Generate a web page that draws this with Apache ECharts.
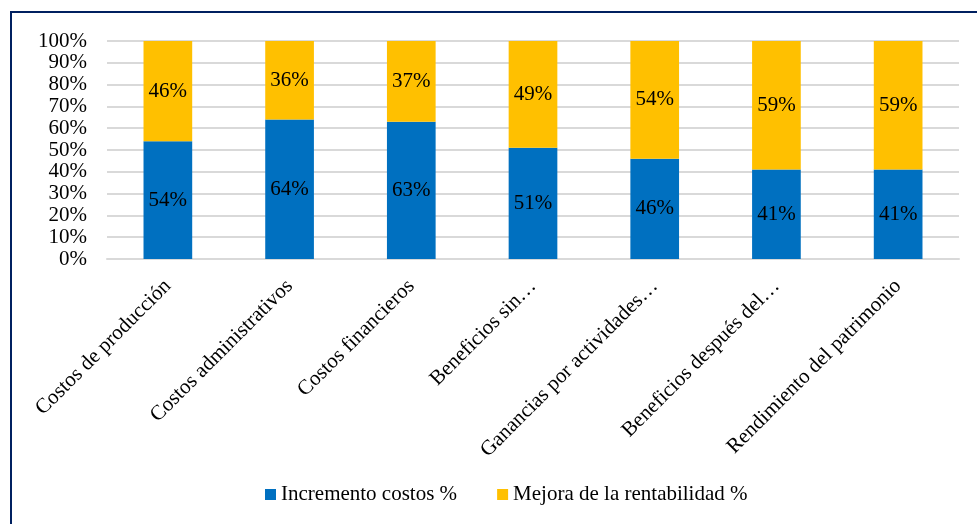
<!DOCTYPE html>
<html>
<head>
<meta charset="utf-8">
<script src="https://cdn.jsdelivr.net/npm/echarts@6/dist/echarts.min.js"></script>
<style>
  html, body { margin: 0; padding: 0; background: #fff; }
  #main { width: 977px; height: 524px; }
</style>
</head>
<body>
<div id="main"></div>
<script>
const categories = [
  'Costos de producción',
  'Costos administrativos',
  'Costos financieros',
  'Beneficios sin…',
  'Ganancias por actividades…',
  'Beneficios después del…',
  'Rendimiento del patrimonio'
];
const incrementoCostos = [54, 64, 63, 51, 46, 41, 41];
const mejoraRentabilidad = [46, 36, 37, 49, 54, 59, 59];

const font = 'Liberation Serif, Times New Roman, serif';
const myChart = echarts.init(document.getElementById('main'));

const barLabel = {
  show: true,
  position: 'inside',
  color: '#000',
  fontFamily: font,
  fontSize: 21,
  formatter: '{c}%'
};

const option = {
  backgroundColor: '#fff',
  textStyle: { fontFamily: font },
  graphic: [{
    type: 'rect',
    shape: { x: 11, y: 12, width: 1100, height: 700 },
    style: { fill: 'none', stroke: '#002060', lineWidth: 2 },
    silent: true
  }],
  legend: {
    bottom: 14,
    left: 260,
    icon: 'rect',
    itemWidth: 11,
    itemHeight: 11,
    itemGap: 40,
    textStyle: { fontFamily: font, fontSize: 21, color: '#000' },
    data: ['Incremento costos %', 'Mejora de la rentabilidad %']
  },
  grid: { left: 107, right: 18, top: 41, bottom: 265 },
  xAxis: {
    type: 'category',
    data: categories,
    axisTick: { show: false },
    axisLine: { lineStyle: { color: '#d9d9d9', width: 2 } },
    axisLabel: {
      rotate: 45,
      interval: 0,
      margin: 24,
      color: '#000',
      fontFamily: font,
      fontSize: 21
    }
  },
  yAxis: {
    type: 'value',
    min: 0,
    max: 100,
    interval: 10,
    axisLine: { show: false },
    axisTick: { show: false },
    splitLine: { lineStyle: { color: '#d9d9d9', width: 2 } },
    axisLabel: {
      formatter: '{value}%',
      margin: 20,
      color: '#000',
      fontFamily: font,
      fontSize: 21
    }
  },
  series: [
    {
      name: 'Incremento costos %',
      type: 'bar',
      stack: 'total',
      barWidth: '40%',
      data: incrementoCostos,
      itemStyle: { color: '#0070C0' },
      label: barLabel
    },
    {
      name: 'Mejora de la rentabilidad %',
      type: 'bar',
      stack: 'total',
      barWidth: '40%',
      data: mejoraRentabilidad,
      itemStyle: { color: '#FFC000' },
      label: barLabel
    }
  ]
};

myChart.setOption(option);
</script>
</body>
</html>
